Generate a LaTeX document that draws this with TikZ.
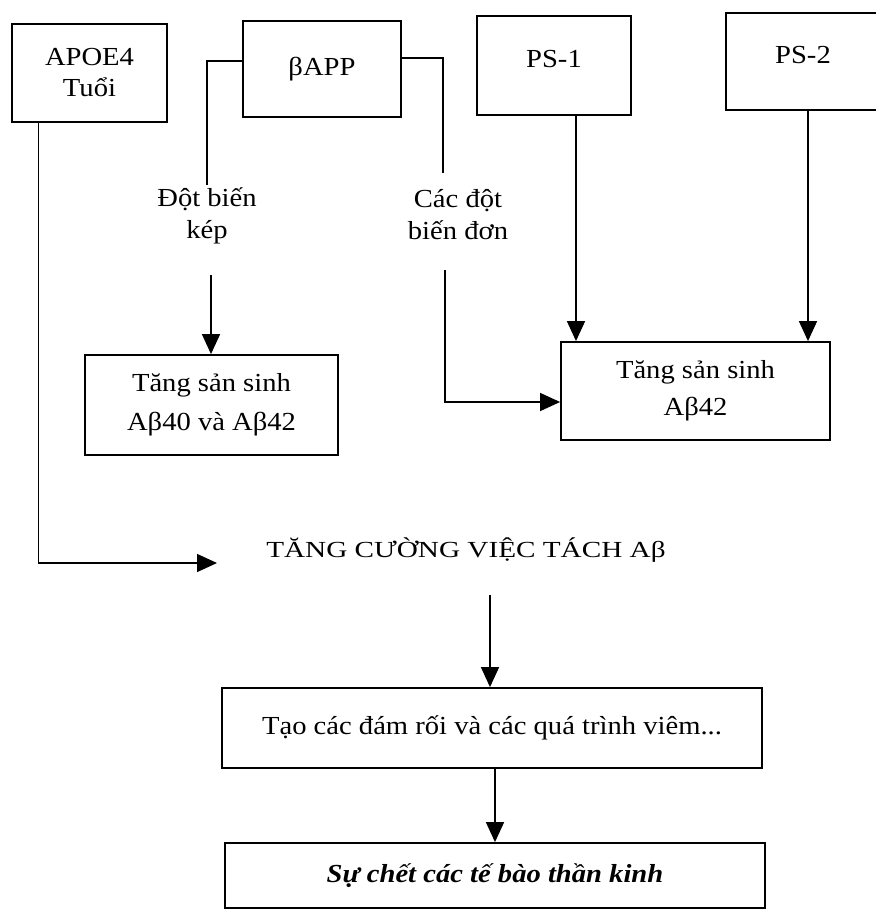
\documentclass[tikz,border=0pt]{standalone}
\usepackage{fontspec}
\setmainfont{Liberation Serif}
\usepackage{graphicx}
\usetikzlibrary{arrows.meta}
\newcommand{\sx}[1]{\scalebox{1.1}[1]{#1}}
\begin{document}
\begin{tikzpicture}[x=1pt,y=-1pt,
  box/.style={draw, line width=1.8pt, inner sep=0pt, align=center, font=\fontsize{26}{31}\selectfont},
  lbl/.style={inner sep=3pt, align=center, font=\fontsize{26}{32}\selectfont},
  conn/.style={line width=1.5pt},
  arr/.style={conn, -{Triangle[length=20pt,width=18pt]}}]
\useasboundingbox (0,0) rectangle (876,922);
% top row
\node[box, minimum width=155pt, minimum height=98pt] (apoe) at (89.5,73) {\sx{APOE4}\\\sx{Tuổi}};
\node[box, minimum width=158pt, minimum height=96pt] (bapp) at (322,69) {\sx{βAPP}};
\node[box, minimum width=154pt, minimum height=99pt, text depth=14pt] (ps1) at (554,65.5) {\sx{PS-1}};
\node[box, minimum width=154pt, minimum height=97pt, text depth=14pt] (ps2) at (803,61.5) {\sx{PS-2}};
% labels
\node[lbl] (lbl1) at (207,216) {\sx{Đột biến}\\\sx{kép}};
\node[lbl] (lbl2) at (458,215) {\sx{Các đột}\\\sx{biến đơn}};
% middle boxes
\node[box, minimum width=253pt, minimum height=100pt, font=\fontsize{26}{39}\selectfont] (ab40) at (211.5,405) {\sx{Tăng sản sinh}\\\sx{Aβ40 và Aβ42}};
\node[box, minimum width=269pt, minimum height=98pt, font=\fontsize{26}{37}\selectfont] (ab42) at (695.5,391) {\sx{Tăng sản sinh}\\\sx{Aβ42}};
% central text
\node[inner sep=2pt] (tach) at (466,550) {\scalebox{1.27}[1]{\fontsize{23}{28}\selectfont TĂNG CƯỜNG VIỆC TÁCH Aβ}};
% bottom boxes
\node[box, minimum width=540pt, minimum height=80pt] (tao) at (492,728) {\sx{Tạo các đám rối và các quá trình viêm...}};
\node[box, minimum width=540pt, minimum height=65pt] (chet) at (495,875.5) {\sx{\textbf{\textit{Sự chết các tế bào thần kinh}}}};
% free ends
\coordinate (k1) at (211,275);
\coordinate (c1) at (443,173);
\coordinate (c2) at (445,270);
\coordinate (e1) at (217,563);
\coordinate (t0) at (490,595);
% connectors
\draw[conn] ([yshift=8pt]bapp.west) -| (lbl1.north);
\draw[arr] (k1) -- (k1 |- ab40.north);
\draw[conn] ([yshift=11pt]bapp.east) -| (c1);
\draw[arr] (c2) |- ([yshift=-11pt]ab42.west);
\draw[arr] ([xshift=22pt]ps1.south) -- ([xshift=22pt]ps1.south |- ab42.north);
\draw[arr] ([xshift=5pt]ps2.south) -- ([xshift=5pt]ps2.south |- ab42.north);
\draw[arr] ([xshift=-51pt]apoe.south) |- (e1);
\draw[arr] (t0) -- (t0 |- tao.north);
\draw[arr] (chet.north |- tao.south) -- (chet.north);
\end{tikzpicture}
\end{document}
